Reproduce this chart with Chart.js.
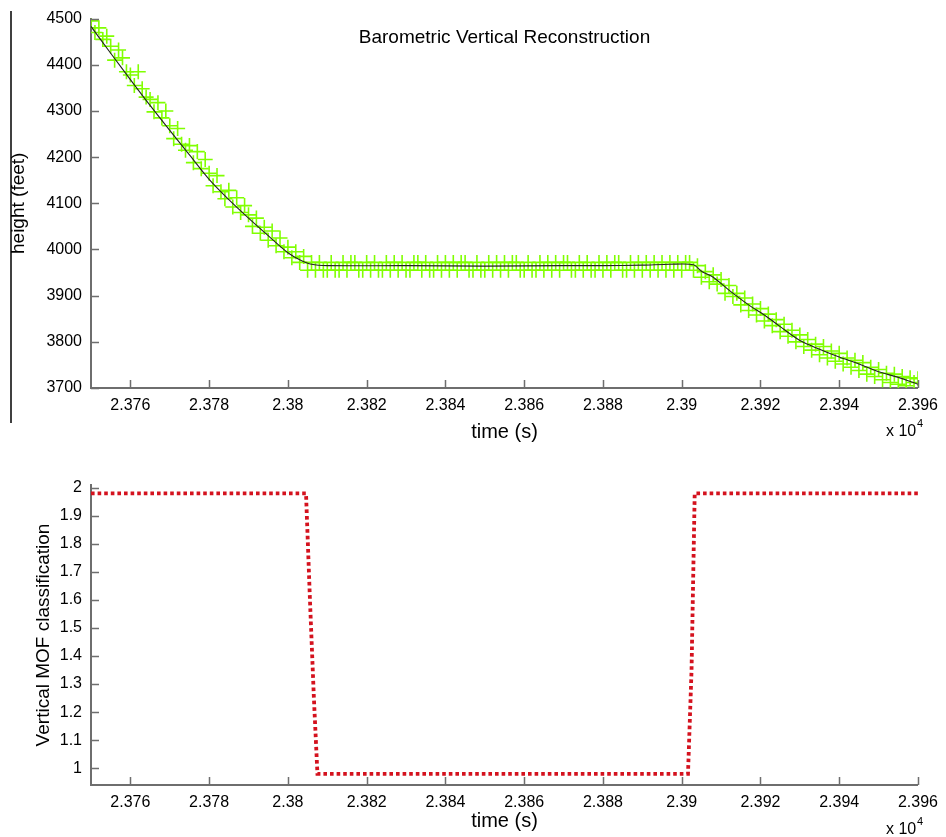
<!DOCTYPE html>
<html>
<head>
<meta charset="utf-8">
<script src="https://cdn.jsdelivr.net/npm/chart.js@4.4.0/dist/chart.umd.min.js"></script>
<style>
  body { margin: 0; background: #fff; }
  .box { position: absolute; left: 0; width: 946px; }
</style>
</head>
<body>
<div class="box" style="top:0;height:445px"><canvas id="topChart" width="946" height="445"></canvas></div>
<div class="box" style="top:445px;height:392px"><canvas id="botChart" width="946" height="392"></canvas></div>
<script>
// raw barometer samples (time s, height ft), one per second
const sampleTimes = [
  23750,23751,23752,23753,23754,23755,23756,23757,23758,23759,
  23760,23761,23762,23763,23764,23765,23766,23767,23768,23769,
  23770,23771,23772,23773,23774,23775,23776,23777,23778,23779,
  23780,23781,23782,23783,23784,23785,23786,23787,23788,23789,
  23790,23791,23792,23793,23794,23795,23796,23797,23798,23799,
  23800,23801,23802,23803,23804,23805,23806,23807,23808,23809,
  23810,23811,23812,23813,23814,23815,23816,23817,23818,23819,
  23820,23821,23822,23823,23824,23825,23826,23827,23828,23829,
  23830,23831,23832,23833,23834,23835,23836,23837,23838,23839,
  23840,23841,23842,23843,23844,23845,23846,23847,23848,23849,
  23850,23851,23852,23853,23854,23855,23856,23857,23858,23859,
  23860,23861,23862,23863,23864,23865,23866,23867,23868,23869,
  23870,23871,23872,23873,23874,23875,23876,23877,23878,23879,
  23880,23881,23882,23883,23884,23885,23886,23887,23888,23889,
  23890,23891,23892,23893,23894,23895,23896,23897,23898,23899,
  23900,23901,23902,23903,23904,23905,23906,23907,23908,23909,
  23910,23911,23912,23913,23914,23915,23916,23917,23918,23919,
  23920,23921,23922,23923,23924,23925,23926,23927,23928,23929,
  23930,23931,23932,23933,23934,23935,23936,23937,23938,23939,
  23940,23941,23942,23943,23944,23945,23946,23947,23948,23949,
  23950,23951,23952,23953,23954,23955,23956,23957,23958,23959,
  23960
];
const sampleHeights = [
  4495,4470,4480,4455,4462,4440,4410,4432,4415,4385,
  4378,4355,4385,4348,4330,4325,4298,4318,4285,4300,
  4268,4240,4262,4228,4215,4225,4188,4212,4175,4195,
  4165,4138,4160,4125,4110,4128,4092,4112,4080,4095,
  4075,4050,4068,4035,4048,4020,4040,4008,4025,3995,
  4005,3982,3995,3972,3985,3955,3972,3955,3972,3955,
  3955,3972,3955,3955,3972,3955,3972,3972,3955,3955,
  3972,3955,3972,3955,3955,3972,3955,3972,3955,3972,
  3955,3955,3972,3972,3955,3972,3955,3955,3972,3955,
  3972,3955,3972,3955,3972,3972,3955,3955,3972,3955,
  3955,3972,3955,3972,3955,3972,3955,3972,3972,3955,
  3955,3972,3955,3955,3972,3955,3972,3955,3972,3955,
  3972,3972,3955,3955,3972,3955,3972,3955,3955,3972,
  3955,3972,3955,3972,3972,3955,3955,3972,3955,3972,
  3955,3972,3955,3972,3955,3972,3955,3972,3955,3972,
  3955,3972,3972,3955,3965,3940,3952,3930,3945,3925,
  3935,3905,3922,3898,3905,3880,3895,3868,3882,3858,
  3872,3845,3860,3835,3848,3822,3838,3812,3825,3800,
  3815,3790,3805,3782,3795,3772,3790,3765,3780,3758,
  3775,3752,3765,3745,3760,3738,3755,3730,3745,3725,
  3740,3718,3732,3712,3730,3708,3725,3705,3722,3712,
  3720
];

// reconstructed (smoothed) height
const fitTimes   = [23750,23755,23760,23765,23770,23775,23780,23785,23790,23795,23800,23803,23806,23810,23830,23850,23870,23880,23890,23897,23903,23905,23908,23912,23917,23921,23925,23930,23935,23940,23945,23950,23955,23960];
const fitHeights = [4483,4425,4368,4312,4258,4205,4152,4108,4068,4030,3993,3978,3968,3965,3965,3964,3965,3965,3966,3968,3967,3953,3940,3912,3880,3858,3833,3803,3784,3767,3752,3735,3723,3708];

// MOF classification
const mofTimes  = [23750, 23804.6, 23805.6, 23806.6, 23807.5, 23901.6, 23902.5, 23903.3, 23960];
const mofValues = [1.98, 1.98, 1.6, 1.25, 0.98, 0.98, 1.35, 1.98, 1.98];

// ticks
const timeTicks = [23760,23780,23800,23820,23840,23860,23880,23900,23920,23940,23960];
const timeTickLabels = ['2.376','2.378','2.38','2.382','2.384','2.386','2.388','2.39','2.392','2.394','2.396'];
const heightTicks = [3700,3800,3900,4000,4100,4200,4300,4400,4500];
const heightTickLabels = ['3700','3800','3900','4000','4100','4200','4300','4400','4500'];
const mofTicks = [1,1.1,1.2,1.3,1.4,1.5,1.6,1.7,1.8,1.9,2];
const mofTickLabels = ['1','1.1','1.2','1.3','1.4','1.5','1.6','1.7','1.8','1.9','2'];

const FONT = 'Liberation Sans, Arial, sans-serif';
const AXIS_GRAY = '#6e6e6e';

function pts(xs, ys) { return xs.map((x, i) => ({x: x, y: ys[i]})); }

// matlab style inward ticks + x10^4 label
const matlabAxes = {
  id: 'matlabAxes',
  afterDraw(chart, args, opts) {
    const ctx = chart.ctx;
    const {left, bottom} = chart.chartArea;
    const xs = chart.scales.x, ys = chart.scales.y;
    ctx.save();
    ctx.strokeStyle = AXIS_GRAY;
    ctx.lineWidth = 1.5;
    ctx.beginPath();
    timeTicks.forEach(v => {
      const px = Math.round(xs.getPixelForValue(v)) + 0.5;
      ctx.moveTo(px, bottom); ctx.lineTo(px, bottom - 8);
    });
    opts.yTicks.forEach(v => {
      const py = Math.round(ys.getPixelForValue(v)) + 0.5;
      ctx.moveTo(left, py); ctx.lineTo(left + 8, py);
    });
    ctx.stroke();
    ctx.fillStyle = '#000';
    ctx.textBaseline = 'middle';
    ctx.textAlign = 'left';
    ctx.font = '16px ' + FONT;
    ctx.fillText('x 10', 886, opts.expY);
    ctx.font = '11px ' + FONT;
    ctx.fillText('4', 917, opts.expY - 8);
    if (opts.title) {
      ctx.font = '19px ' + FONT;
      ctx.textAlign = 'center';
      ctx.fillText(opts.title, (chart.chartArea.left + chart.chartArea.right) / 2, 38);
    }
    if (opts.sideLine) {
      ctx.strokeStyle = '#000';
      ctx.lineWidth = 1.5;
      ctx.beginPath();
      ctx.moveTo(11, 11); ctx.lineTo(11, 423);
      ctx.stroke();
    }
    ctx.restore();
  }
};

function xScale(h, titlePad) {
  return {
    type: 'linear', min: 23750, max: 23960,
    afterBuildTicks: s => { s.ticks = timeTicks.map(v => ({value: v})); },
    afterFit: s => { s.height = h; },
    grid: { display: false, drawTicks: false },
    border: { color: AXIS_GRAY, width: 2 },
    ticks: {
      color: '#000', padding: 8, font: { family: FONT, size: 16 }, maxRotation: 0,
      callback: v => timeTickLabels[timeTicks.indexOf(v)]
    },
    title: { display: true, text: 'time (s)', color: '#000', font: { family: FONT, size: 20 }, padding: { top: 0, bottom: titlePad } }
  };
}

new Chart(document.getElementById('topChart'), {
  type: 'scatter',
  data: {
    datasets: [
      { data: pts(fitTimes, fitHeights), showLine: true, borderColor: '#222', borderWidth: 1.1, pointRadius: 0, tension: 0.3 },
      { data: pts(sampleTimes, sampleHeights), pointStyle: 'cross', pointRadius: 7.5, borderColor: '#80ff00', borderWidth: 1.6, backgroundColor: '#80ff00' }
    ]
  },
  options: {
    responsive: false, animation: false,
    layout: { padding: { left: 0, top: 18, right: 22, bottom: 0 } },
    plugins: {
      legend: { display: false }, tooltip: { enabled: false },
      matlabAxes: { yTicks: heightTicks, expY: 432, title: 'Barometric Vertical Reconstruction', sideLine: true }
    },
    scales: {
      x: xScale(57, 1),
      y: {
        min: 3700, max: 4500,
        afterBuildTicks: s => { s.ticks = heightTicks.map(v => ({value: v})); },
        afterFit: s => { s.width = 91; },
        grid: { display: false, drawTicks: false },
        border: { color: AXIS_GRAY, width: 2 },
        ticks: { color: '#000', padding: 9, font: { family: FONT, size: 16 },
          callback: v => heightTickLabels[heightTicks.indexOf(v)] },
        title: { display: true, text: 'height (feet)', color: '#000', font: { family: FONT, size: 19 }, padding: { top: 7, bottom: 0 } }
      }
    }
  },
  plugins: [matlabAxes]
});

new Chart(document.getElementById('botChart'), {
  type: 'scatter',
  data: {
    datasets: [
      { data: pts(mofTimes, mofValues), showLine: true, borderColor: 'rgb(212,18,30)', borderWidth: 3.8, borderDash: [3.6, 3], pointRadius: 0 }
    ]
  },
  options: {
    responsive: false, animation: false,
    layout: { padding: { left: 0, top: 40, right: 22, bottom: 0 } },
    plugins: {
      legend: { display: false }, tooltip: { enabled: false },
      matlabAxes: { yTicks: mofTicks, expY: 830 - 445 }
    },
    scales: {
      x: xScale(52, 4),
      y: {
        min: 0.94, max: 2.01,
        afterBuildTicks: s => { s.ticks = mofTicks.map(v => ({value: v})); },
        afterFit: s => { s.width = 91; },
        grid: { display: false, drawTicks: false },
        border: { color: AXIS_GRAY, width: 2 },
        ticks: { color: '#000', padding: 9, font: { family: FONT, size: 16 },
          callback: v => mofTickLabels[mofTicks.indexOf(v)] },
        title: { display: true, text: 'Vertical MOF classification', color: '#000', font: { family: FONT, size: 19 }, padding: { top: 32, bottom: 0 } }
      }
    }
  },
  plugins: [matlabAxes]
});
</script>
</body>
</html>
